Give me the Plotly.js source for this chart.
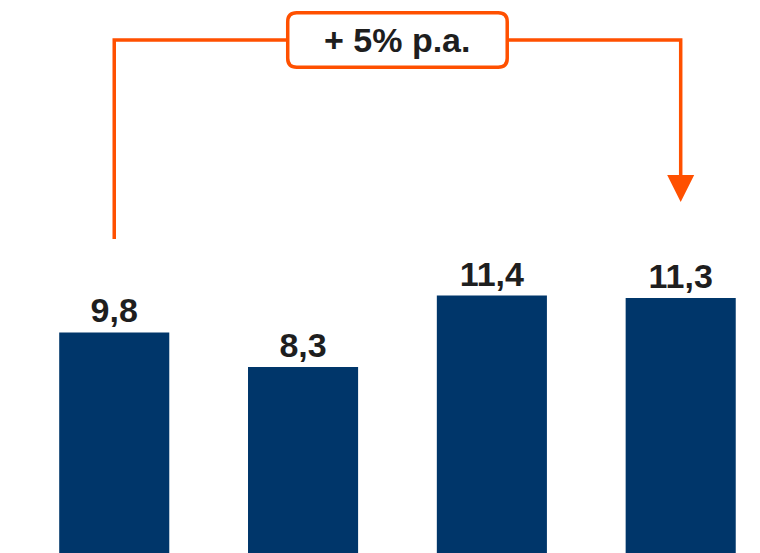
<!DOCTYPE html>
<html>
<head>
<meta charset="utf-8">
<script src="https://cdn.plot.ly/plotly-3.0.1.min.js"></script>
<style>
html, body { margin: 0; padding: 0; background: #ffffff; }
#chart { width: 760px; height: 553px; }
</style>
</head>
<body>
<div id="chart"></div>
<script>
// Data
const categories = ["Bar 1", "Bar 2", "Bar 3", "Bar 4"];
const values = [9.8, 8.3, 11.4, 11.3];
const growthLabel = "+ 5% p.a.";
const growthFrom = 0;   // index of start category
const growthTo = 3;     // index of end category

const ORANGE = "#FF5000";
const NAVY = "#00366A";
const TEXT = "#1E1E1E";
const FONT = "Liberation Sans, Arial, sans-serif";

const xs = categories.map((c, i) => i);

const trace = {
  type: "bar",
  x: xs,
  y: values,
  width: 0.583,
  marker: { color: NAVY, line: { width: 0 } },
  texttemplate: "%{y:.1f}",
  textposition: "outside",
  cliponaxis: false,
  textfont: { family: FONT, size: 34, color: TEXT, weight: "bold" },
  hoverinfo: "skip"
};

const topY = 22.51;     // bracket level
const leftBottom = 13.86;
const arrowTop = 16.64;
const arrowTip = 15.47;
const mid = (growthFrom + growthTo) / 2;

const w = 109.75, h = 27.25, r = 9;
const boxPath = `M ${-w + r},${-h} L ${w - r},${-h} Q ${w},${-h} ${w},${-h + r} L ${w},${h - r} Q ${w},${h} ${w - r},${h} L ${-w + r},${h} Q ${-w},${h} ${-w},${h - r} L ${-w},${-h + r} Q ${-w},${-h} ${-w + r},${-h} Z`;

const layout = {
  width: 760,
  height: 553,
  margin: { l: 0, r: 0, t: 0, b: 0, pad: 0 },
  paper_bgcolor: "#ffffff",
  plot_bgcolor: "#ffffff",
  separators: ",.",
  showlegend: false,
  xaxis: {
    type: "linear",
    range: [-0.605, 3.42],
    visible: false,
    fixedrange: true
  },
  yaxis: {
    range: [0.21, 24.25],
    visible: false,
    fixedrange: true
  },
  shapes: [
    {
      type: "path",
      xref: "x", yref: "y",
      path: `M ${growthFrom},${leftBottom} L ${growthFrom},${topY} L ${growthTo},${topY} L ${growthTo},${arrowTop}`,
      line: { color: ORANGE, width: 3.5 },
      layer: "above"
    },
    {
      type: "path",
      xref: "x", yref: "y",
      xsizemode: "pixel", ysizemode: "pixel",
      xanchor: mid, yanchor: topY,
      path: boxPath,
      fillcolor: "#ffffff",
      line: { color: ORANGE, width: 3.5 },
      layer: "above"
    },
    {
      type: "path",
      xref: "x", yref: "y",
      xsizemode: "pixel", ysizemode: "pixel",
      xanchor: growthTo, yanchor: arrowTip,
      path: "M -13.5,27 L 13.5,27 L 0,0 Z",
      fillcolor: ORANGE,
      line: { color: ORANGE, width: 0 },
      layer: "above"
    }
  ],
  annotations: [
    {
      x: mid, y: topY, xref: "x", yref: "y",
      text: growthLabel,
      showarrow: false,
      xanchor: "center", yanchor: "middle",
      font: { family: FONT, size: 34, color: TEXT, weight: "bold" }
    }
  ]
};

Plotly.newPlot("chart", [trace], layout, { staticPlot: true, displayModeBar: false });
</script>
</body>
</html>
